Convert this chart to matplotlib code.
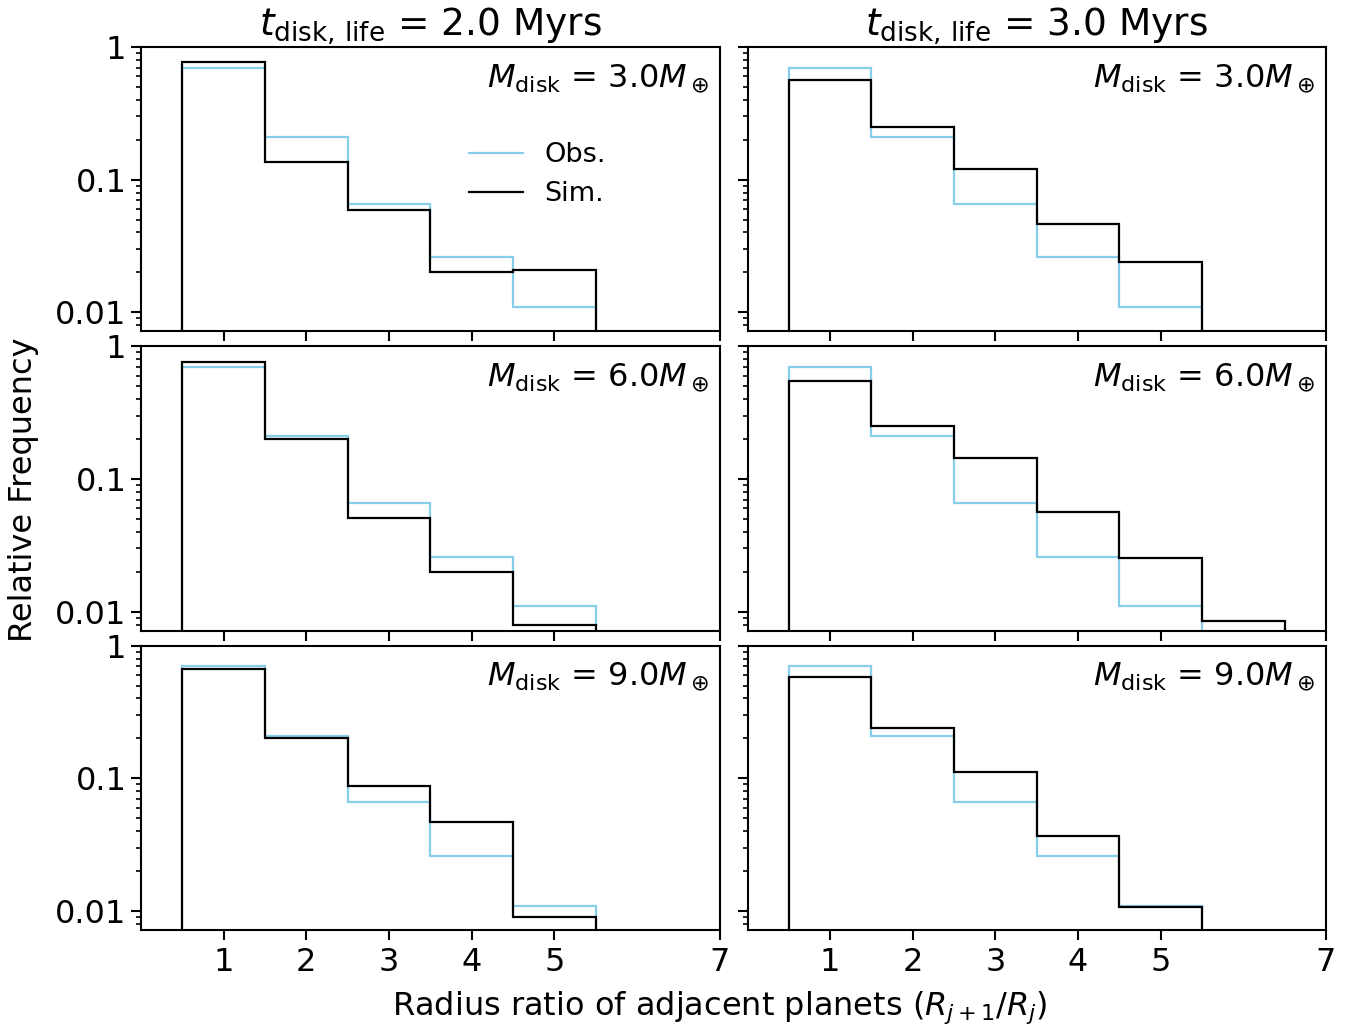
import numpy as np
import matplotlib.pyplot as plt
from matplotlib.ticker import FixedLocator, FuncFormatter

# bin edges of the radius-ratio histograms
edges = [0.5, 1.5, 2.5, 3.5, 4.5, 5.5]
edges_ext = [0.5, 1.5, 2.5, 3.5, 4.5, 5.5, 6.5]

# observed distribution (same in every panel)
obs = [0.70, 0.21, 0.066, 0.026, 0.011]

# simulated distributions, rows = disk mass, cols = disk lifetime
sim_2myr_3me = [0.77, 0.135, 0.059, 0.020, 0.0207]
sim_2myr_6me = [0.757, 0.199, 0.051, 0.020, 0.008]
sim_2myr_9me = [0.67, 0.20, 0.087, 0.047, 0.009]
sim_3myr_3me = [0.56, 0.249, 0.12, 0.046, 0.0238]
sim_3myr_6me = [0.544, 0.253, 0.143, 0.0569, 0.0256, 0.00855]
sim_3myr_9me = [0.583, 0.24, 0.112, 0.0368, 0.0107]

lifetimes = [2.0, 3.0]
masses = [3.0, 6.0, 9.0]
sims = [[sim_2myr_3me, sim_3myr_3me],
        [sim_2myr_6me, sim_3myr_6me],
        [sim_2myr_9me, sim_3myr_9me]]

xticks = [1, 2, 3, 4, 5, 7]
yticks = [0.01, 0.1, 1]

plt.rcParams['font.size'] = 23
plt.rcParams['mathtext.fontset'] = 'dejavusans'

fig, axes = plt.subplots(3, 2, figsize=(13.61, 10.31), dpi=100,
                         sharex=True, sharey=True)
fig.subplots_adjust(left=0.1036, right=0.9743, top=0.9544, bottom=0.098,
                    wspace=0.0484, hspace=0.053)

for i in range(3):
    for j in range(2):
        ax = axes[i, j]
        s = sims[i][j]
        e = edges_ext if len(s) == 6 else edges
        ax.stairs(obs, edges, baseline=1e-5, color='#87CEEB', lw=1.6,
                  label='Obs.')
        ax.stairs(s, e, baseline=1e-5, color='black', lw=1.6, label='Sim.')
        ax.set_yscale('log')
        ax.set_xlim(0, 7)
        ax.set_ylim(0.0072, 1.0)
        ax.xaxis.set_major_locator(FixedLocator(xticks))
        ax.yaxis.set_major_locator(FixedLocator(yticks))
        ax.yaxis.set_major_formatter(FuncFormatter(lambda v, p: '%g' % v))
        ax.tick_params(which='major', length=7, width=1.5, labelsize=23)
        ax.tick_params(axis='x', which='major', pad=5)
        ax.tick_params(which='minor', length=3.5, width=1.2)
        for sp in ax.spines.values():
            sp.set_linewidth(1.5)
        ax.text(0.982, 0.89,
                r'$M_{\rm disk}$ = %.1f$M_\oplus$' % masses[i],
                transform=ax.transAxes, ha='right', va='center', fontsize=23)
        if i == 0:
            ax.set_title(r'$t_{\rm disk,\,life}$ = %.1f Myrs' % lifetimes[j],
                         fontsize=27, pad=8)

axes[0, 0].legend(loc='center', bbox_to_anchor=(0.685, 0.551), frameon=False,
                  fontsize=19.5, handlelength=2.0, labelspacing=0.47)

fig.text(0.529, 0.023, r'Radius ratio of adjacent planets ($R_{j+1}/R_j$)',
         ha='center', va='center', fontsize=23)
fig.text(0.0176, 0.525, 'Relative Frequency', rotation=90,
         ha='center', va='center', fontsize=23)

fig.savefig('out.png', dpi=100)
